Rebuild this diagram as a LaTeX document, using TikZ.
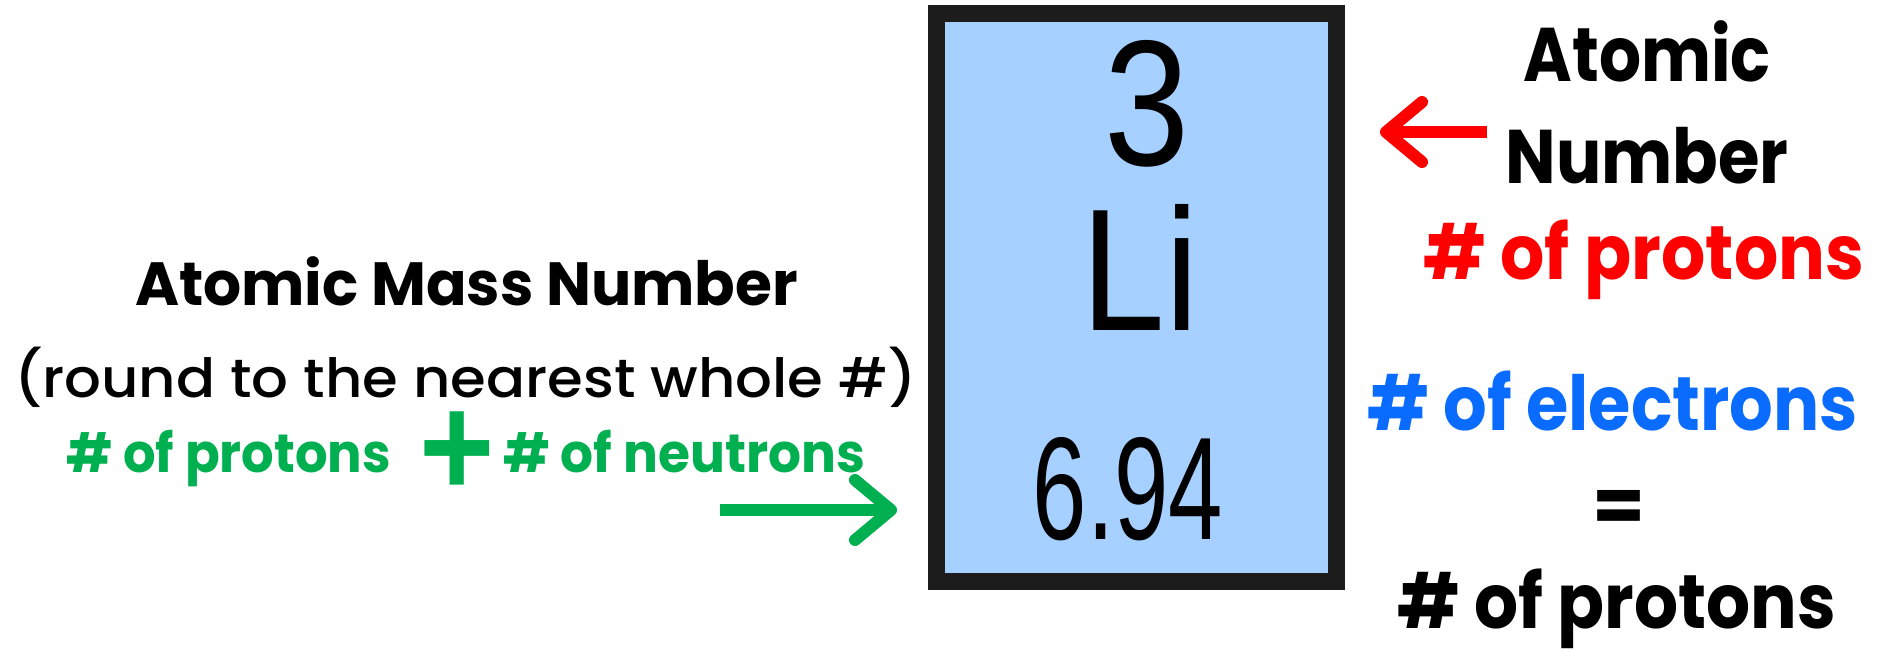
\documentclass[tikz,border=0pt]{standalone}
\usepackage{fontspec}
\setmainfont{Poppins}
\newfontfamily\popmed{Poppins}[UprightFont={* Medium}]
\newfontfamily\arialf{Liberation Sans}
\usetikzlibrary{arrows.meta}
\definecolor{boxblue}{HTML}{A5D0FF}
\definecolor{gr}{HTML}{00B050}
\definecolor{bl}{HTML}{0A6CFF}
\definecolor{rd}{HTML}{FF0000}
\definecolor{edgec}{HTML}{1C1C1C}
\newcommand\fitw[2]{\resizebox{#1pt}{\height}{#2}}
\newcommand\fitwh[3]{\resizebox{#1pt}{#2pt}{#3}}
\tikzset{
  lbl/.style={inner sep=0pt, outer sep=0pt},
  rightbig/.style={lbl, anchor=base, font=\fontsize{76}{80}\selectfont\bfseries},
  leftbig/.style={lbl, anchor=base west, font=\fontsize{61}{64}\selectfont\bfseries},
  greentext/.style={lbl, anchor=base west, text=gr, font=\fontsize{54}{58}\selectfont\bfseries},
  arr/.style={line width=12pt, -{Straight Barb[length=36pt,width=60pt,round]}},
}
\begin{document}
\begin{tikzpicture}[x=1pt,y=-1pt]
\useasboundingbox (0,0) rectangle (1888,649);
% element box
\node[draw=edgec, fill=boxblue, line width=17pt, minimum width=400pt, minimum height=568pt, inner sep=0pt] (box) at (1136.5,297.5) {};
\node[lbl, anchor=base] (num) at (1147,165) {\arialf\fitwh{85}{125}{3}};
\node[lbl, anchor=base] (sym) at (1140,330) {\arialf\fitwh{117}{126}{Li}};
\node[lbl, anchor=base] (mass) at (1128,539) {\arialf\fitwh{190}{102}{6.94}};
% right column
\node[rightbig] (an1) at (1647,81) {\fitw{247}{Atomic}};
\node[rightbig] (an2) at (1647,183) {\fitw{283}{Number}};
\node[rightbig, anchor=base west, text=rd] (np) at (1423,279) {\fitw{441}{\# of protons}};
\node[rightbig, anchor=base west, text=bl] (ne) at (1367,430) {\fitw{491}{\# of electrons}};
\node[rightbig] (eq) at (1619,532) {\fitw{53}{=}};
\node[rightbig, anchor=base west] (np2) at (1397,628) {\fitw{439}{\# of protons}};
% left column
\node[leftbig] (amn) at (135,305) {\fitw{663}{Atomic Mass Number}};
\node[lbl, anchor=base west, font=\fontsize{54}{58}\selectfont\popmed] (rnd) at (14,397) {\fitw{903}{(round to the nearest whole \#)}};
\node[greentext] (gp) at (66,472) {\fitw{325}{\# of protons}};
\node[lbl, anchor=base west, text=gr, font=\fontsize{129}{130}\selectfont\arialf\bfseries] (plus) at (419,496) {\scalebox{1}[1.12]{+}};
\node[greentext] (gn) at (503,472) {\fitw{362}{\# of neutrons}};
% arrows
\coordinate (rtail) at (1487,132);
\coordinate (rtip) at (1380,132);
\coordinate (gtail) at (720,510);
\coordinate (gtip) at (897,510);
\draw[arr, rd] (rtail) -- (rtip);
\draw[arr, gr] (gtail) -- (gtip);
\end{tikzpicture}
\end{document}
